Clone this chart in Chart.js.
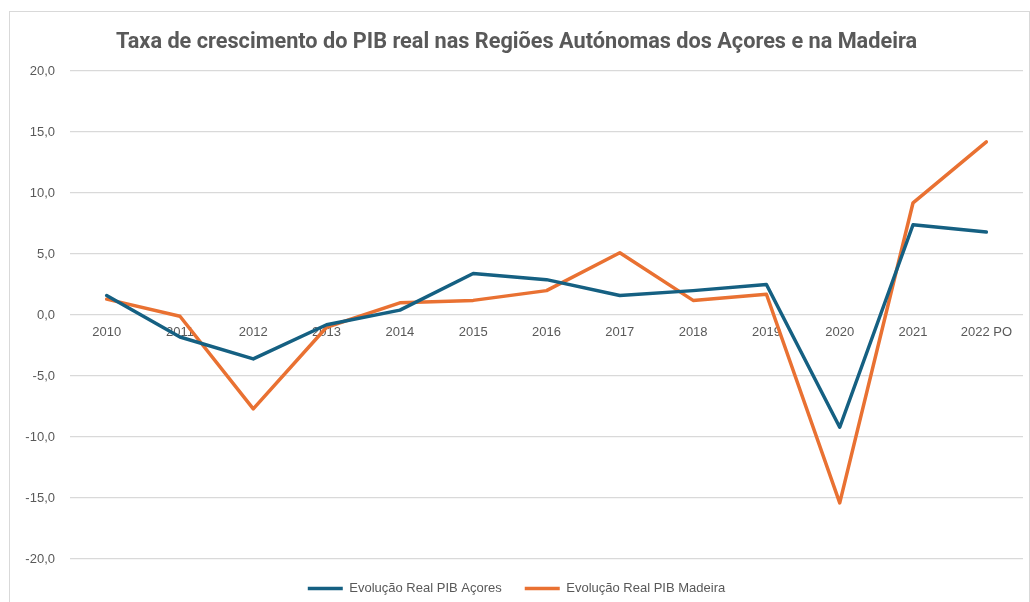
<!DOCTYPE html>
<html>
<head>
<meta charset="utf-8">
<script src="https://cdn.jsdelivr.net/npm/chart.js@4.4.1/dist/chart.umd.min.js"></script>
<style>
  html, body { margin: 0; padding: 0; background: #fff; }
  body { width: 1030px; height: 602px; overflow: hidden; position: relative; }
  .caixa { position: absolute; left: 9px; top: 11px; width: 1019px; height: 620px;
           border: 1px solid #d9d9d9; border-bottom: none; }
  .grafico { position: absolute; left: 0; top: 0; width: 1019px; height: 593px; }
</style>
</head>
<body>
<div class="caixa">
  <div class="grafico"><canvas id="pib"></canvas></div>
</div>
<script>
const anos = ['2010', '2011', '2012', '2013', '2014', '2015', '2016', '2017', '2018', '2019', '2020', '2021', '2022 PO'];
const pibAcores = [1.6, -1.8, -3.6, -0.8, 0.4, 3.4, 2.9, 1.6, 2.0, 2.5, -9.2, 7.4, 6.8];
const pibMadeira = [1.3, -0.1, -7.7, -1.0, 1.0, 1.2, 2.0, 5.1, 1.2, 1.7, -15.4, 9.2, 14.2];
const ticksY = [-20, -15, -10, -5, 0, 5, 10, 15, 20];

const cinza = '#595959';

document.addEventListener("DOMContentLoaded", () => {
  const ctx = document.getElementById('pib');
  new Chart(ctx.getContext('2d'), {
    type: 'line',
    data: {
      labels: anos,
      datasets: [{
        label: 'Evolução Real PIB Açores',
        data: pibAcores,
        borderColor: '#156082',
        backgroundColor: '#156082',
        borderWidth: 3.5,
        pointRadius: 0,
        tension: 0,
        borderJoinStyle: 'round',
        borderCapStyle: 'round'
      }, {
        label: 'Evolução Real PIB Madeira',
        data: pibMadeira,
        borderColor: '#E97132',
        backgroundColor: '#E97132',
        borderWidth: 3.5,
        pointRadius: 0,
        tension: 0,
        borderJoinStyle: 'round',
        borderCapStyle: 'round'
      }]
    },
    options: {
      responsive: true,
      maintainAspectRatio: false,
      animation: false,
      layout: { padding: { left: 0, right: 6, top: 0, bottom: 0 } },
      plugins: {
        title: {
          display: true,
          text: 'Taxa de crescimento do PIB real nas Regiões Autónomas dos Açores e na Madeira',
          color: cinza,
          font: { family: 'Roboto', size: 21.7, weight: 'bold' },
          padding: { top: 18, bottom: 15 }
        },
        legend: {
          position: 'bottom',
          labels: {
            color: cinza,
            font: { family: 'Liberation Sans', size: 13 },
            usePointStyle: true,
            pointStyle: 'line',
            pointStyleWidth: 35,
            padding: 23
          }
        },
        tooltip: { enabled: false }
      },
      scales: {
        x: {
          offset: true,
          position: { y: 0 },
          grid: { display: false },
          border: { display: false },
          ticks: {
            color: cinza,
            font: { family: 'Liberation Sans', size: 13 },
            padding: 2,
            maxRotation: 0
          },
          afterFit: (scale) => { scale.height = 0; }
        },
        y: {
          min: -20,
          max: 20,
          afterBuildTicks: (scale) => { scale.ticks = ticksY.map(v => ({ value: v })); },
          afterFit: (scale) => { scale.width = 60; },
          grid: { color: '#d9d9d9', lineWidth: 1.2, drawTicks: false },
          border: { display: false },
          ticks: {
            color: cinza,
            font: { family: 'Liberation Sans', size: 13 },
            padding: 15,
            callback: (v) => v.toFixed(1).replace('.', ',')
          }
        }
      }
    }
  });
});
</script>
</body>
</html>
